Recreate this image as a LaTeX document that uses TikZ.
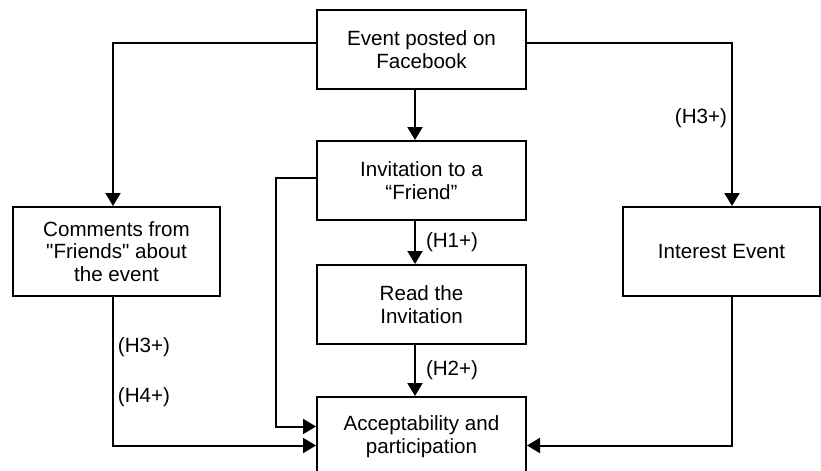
\documentclass[tikz,border=0pt]{standalone}
\usepackage{fontspec}
\setmainfont{Liberation Sans}
\newfontfamily\quotefont{Liberation Sans}[Ligatures=ResetAll]
\newcommand{\sq}{{\quotefont\symbol{34}}}
\usetikzlibrary{arrows.meta,positioning}

\begin{document}
\begin{tikzpicture}[x=0.5pt, y=-0.5pt, ->, >={Triangle[length=6.5pt,width=7.5pt]}, line width=1pt, node distance=25pt,
    box/.style={draw, rectangle, -, align=center, minimum width=104.5pt, minimum height=39.5pt, inner sep=2pt, font=\fontsize{10.3}{11.2}\selectfont},
    lbl/.style={font=\fontsize{10.3}{11.2}\selectfont, inner sep=2pt}]
    \useasboundingbox (0,0) rectangle (821,471);
    \node[box] (event) at (421.5,49.5) {Event posted on\\Facebook};
    \node[box] (invite) [below=25pt of event] {Invitation to a\\“Friend”};
    \node[box] (read) [below=21.5pt of invite] {Read the\\Invitation};
    \node[box] (accept) [below=25.5pt of read] {Acceptability and\\participation};
    \node[box, minimum width=103.5pt, minimum height=44.5pt] (comments) at (116.5,251.5) {Comments from\\\sq Friends\sq{} about\\the event};
    \node[box, minimum width=98.5pt, minimum height=44.5pt] (interest) at (721.5,251.5) {Interest Event};

    \draw ([xshift=-3.25pt]event.south) -- ([xshift=-3.25pt]invite.north);
    \draw ([yshift=3.25pt]event.west) -| ([xshift=-1.75pt]comments.north);
    \draw ([yshift=3.25pt]event.east) -| ([xshift=5.25pt]interest.north)
        node[lbl, pos=0.73, left] {(H3+)};
    \draw ([xshift=-3.25pt]invite.south) -- ([xshift=-3.25pt]read.north)
        node[lbl, midway, right=3pt] {(H1+)};
    \draw ([xshift=-3.25pt]read.south) -- ([xshift=-3.25pt]accept.north)
        node[lbl, midway, right=3pt] {(H2+)};
    \draw ([yshift=1.5pt]invite.west) -- ++(-20pt,0) |- ([yshift=5pt]accept.west);
    \draw ([xshift=-1.75pt]comments.south) |- ([yshift=-4.5pt]accept.west)
        node[lbl, pos=0.17, right] {(H3+)}
        node[lbl, pos=0.337, right] {(H4+)};
    \draw ([xshift=5.25pt]interest.south) |- ([yshift=-4.5pt]accept.east);
\end{tikzpicture}
\end{document}
